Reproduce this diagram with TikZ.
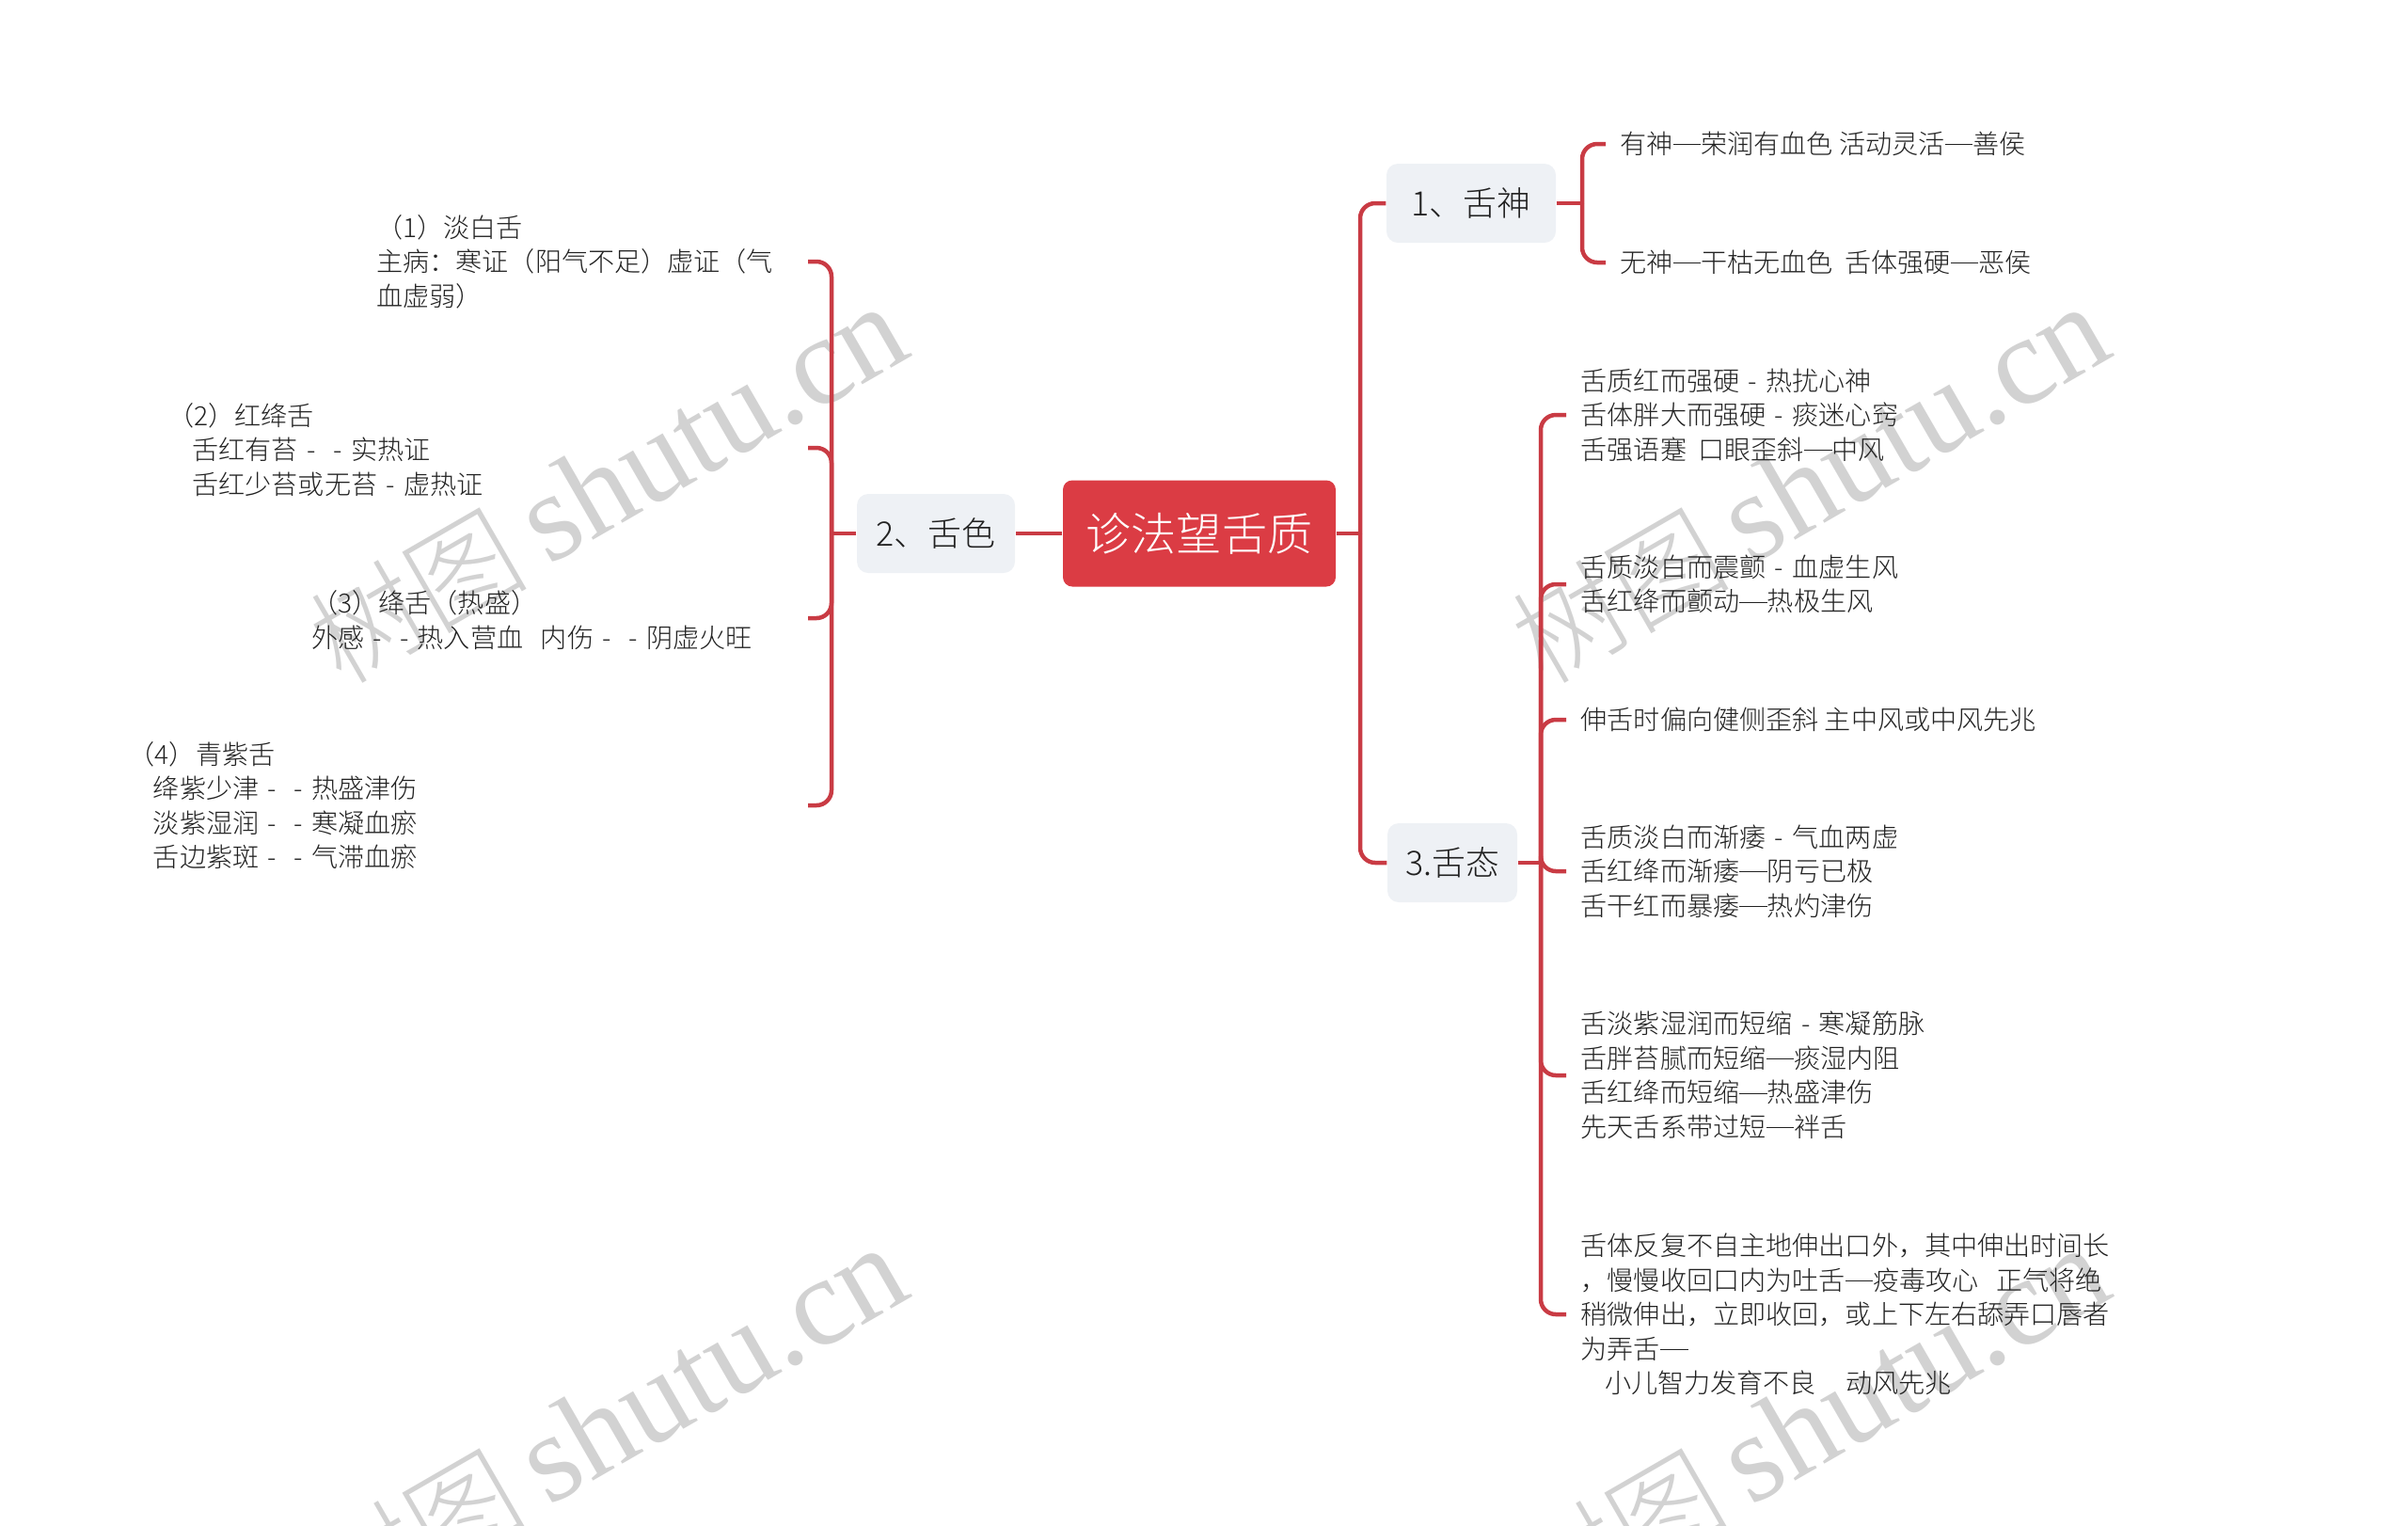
\documentclass[tikz,border=0pt]{standalone}
\usepackage{fontspec}
\setmainfont{Noto Sans CJK SC Light}
\newfontfamily\markfont{Liberation Serif}
\newcommand{\dsh}{\makebox[1em]{-}}
\newcommand{\lng}{\rule[0.33em]{1.05em}{0.04em}}
\newcommand{\ind}{\hspace*{0.93em}}
\newcommand{\marktext}{{\fontsize{33}{40}\selectfont 树图}\,{\markfont shutu.cn}}
\definecolor{linkred}{HTML}{C93B44}
\definecolor{rootred}{HTML}{DB3C44}
\definecolor{topicgray}{HTML}{EEF1F5}
\definecolor{inkgray}{HTML}{222222}
\definecolor{markgray}{HTML}{D2D2D2}
\tikzset{
    link/.style={draw=linkred,line width=0.045cm,rounded corners=0.16cm},
    rootbox/.style={fill=rootred,rounded corners=0.1cm,text=white,minimum width=2.9cm,minimum height=1.13cm,font=\fontsize{13.7}{16}\selectfont},
    topicbox/.style={fill=topicgray,rounded corners=0.12cm,text=inkgray,minimum height=0.84cm,font=\fontsize{10.2}{12}\selectfont},
    leafright/.style={anchor=west,inner xsep=0.15cm,inner ysep=0pt,align=left,text=inkgray,font=\fontsize{8}{10.4}\selectfont},
    leafleft/.style={anchor=east,inner xsep=0pt,inner ysep=0pt,align=left,text=inkgray,font=\fontsize{8}{10.4}\selectfont},
    markbox/.style={rotate=30,text=markgray,font=\fontsize{38}{40}\selectfont}
}
\begin{document}
\begin{tikzpicture}
    \useasboundingbox (0,0) rectangle (25.6,-16.21);
    \begin{scope}
        \clip (0,0) rectangle (25.6,-16.21);
        \node[markbox] (markA) at (6.46,-5.15) {\marktext};
        \node[markbox] (markB) at (19.24,-5.15) {\marktext};
        \node[markbox] (markC) at (6.46,-15.15) {\marktext};
        \node[markbox] (markD) at (19.24,-15.15) {\marktext};
    \end{scope}
    % centre and main branches
    \node[rootbox] (root) at (12.75,-5.67) {诊法望舌质};
    \node[topicbox,minimum width=1.8cm] (shen) at (15.64,-2.16) {1、舌神};
    \node[topicbox,minimum width=1.68cm] (se) at (9.95,-5.67) {2、舌色};
    \node[topicbox,minimum width=1.38cm] (tai) at (15.44,-9.17) {3.舌态};
    \coordinate (rootjoin) at (14.46,-5.67);
    \coordinate (shenjoin) at (16.82,-2.16);
    \coordinate (sejoin) at (8.84,-5.67);
    \coordinate (taijoin) at (16.38,-9.17);
    % leaves of 1
    \node[leafright] (shenA) at (17.07,-1.53) {有神\lng 荣润有血色 活动灵活\lng 善侯};
    \node[leafright] (shenB) at (17.07,-2.79) {无神\lng 干枯无血色~~舌体强硬\lng 恶侯};
    % leaves of 2
    \node[leafleft,text width=4.58cm] (seA) at (8.59,-2.78) {（1）淡白舌\\主病：寒证（阳气不足）虚证（气\\血虚弱）};
    \node[leafleft,text width=6.8cm] (seB) at (8.59,-4.78) {（2）红绛舌\\\ind 舌红有苔\dsh\dsh 实热证\\\ind 舌红少苔或无苔\dsh 虚热证};
    \node[leafleft,text width=5.27cm] (seC) at (8.59,-6.59) {（3）绛舌（热盛）\\外感\dsh\dsh 热入营血~~内伤\dsh\dsh 阴虚火旺};
    \node[leafleft,text width=7.215cm] (seD) at (8.59,-8.56) {（4）青紫舌\\\ind 绛紫少津\dsh\dsh 热盛津伤\\\ind 淡紫湿润\dsh\dsh 寒凝血瘀\\\ind 舌边紫斑\dsh\dsh 气滞血瘀};
    % leaves of 3
    \node[leafright] (taiA) at (16.65,-4.41) {舌质红而强硬\dsh 热扰心神\\舌体胖大而强硬\dsh 痰迷心窍\\舌强语蹇~~口眼歪斜\lng 中风};
    \node[leafright] (taiB) at (16.65,-6.21) {舌质淡白而震颤\dsh 血虚生风\\舌红绛而颤动\lng 热极生风};
    \node[leafright] (taiC) at (16.65,-7.65) {伸舌时偏向健侧歪斜 主中风或中风先兆};
    \node[leafright] (taiD) at (16.65,-9.26) {舌质淡白而渐痿\dsh 气血两虚\\舌红绛而渐痿\lng 阴亏已极\\舌干红而暴痿\lng 热灼津伤};
    \node[leafright] (taiE) at (16.65,-11.43) {舌淡紫湿润而短缩\dsh 寒凝筋脉\\舌胖苔腻而短缩\lng 痰湿内阻\\舌红绛而短缩\lng 热盛津伤\\先天舌系带过短\lng 袢舌};
    \node[leafright] (taiF) at (16.65,-13.97) {舌体反复不自主地伸出口外，其中伸出时间长\\，慢慢收回口内为吐舌\lng 疫毒攻心~~~正气将绝\\稍微伸出，立即收回，或上下左右舔弄口唇者\\为弄舌\lng\\\hspace*{0.9em}小儿智力发育不良~~~~~动风先兆};
    % connectors
    \draw[link] (root.east) -- (rootjoin);
    \draw[link] (rootjoin) |- (shen.west);
    \draw[link] (rootjoin) |- (tai.west);
    \draw[link] (root.west) -- (se.east);
    \draw[link] (se.west) -- (sejoin);
    \draw[link] (sejoin) |- (seA.east);
    \draw[link] (sejoin) |- ([yshift=0.02cm]seB.east);
    \draw[link] (sejoin) |- ([yshift=0.02cm]seC.east);
    \draw[link] (sejoin) |- (seD.east);
    \draw[link] (shen.east) -- (shenjoin);
    \draw[link] (shenjoin) |- (shenA.west);
    \draw[link] (shenjoin) |- (shenB.west);
    \draw[link] (tai.east) -- (taijoin);
    \draw[link] (taijoin) |- (taiA.west);
    \draw[link] (taijoin) |- (taiB.west);
    \draw[link] (taijoin) |- (taiC.west);
    \draw[link] (taijoin) |- (taiD.west);
    \draw[link] (taijoin) |- (taiE.west);
    \draw[link] (taijoin) |- (taiF.west);
\end{tikzpicture}
\end{document}
